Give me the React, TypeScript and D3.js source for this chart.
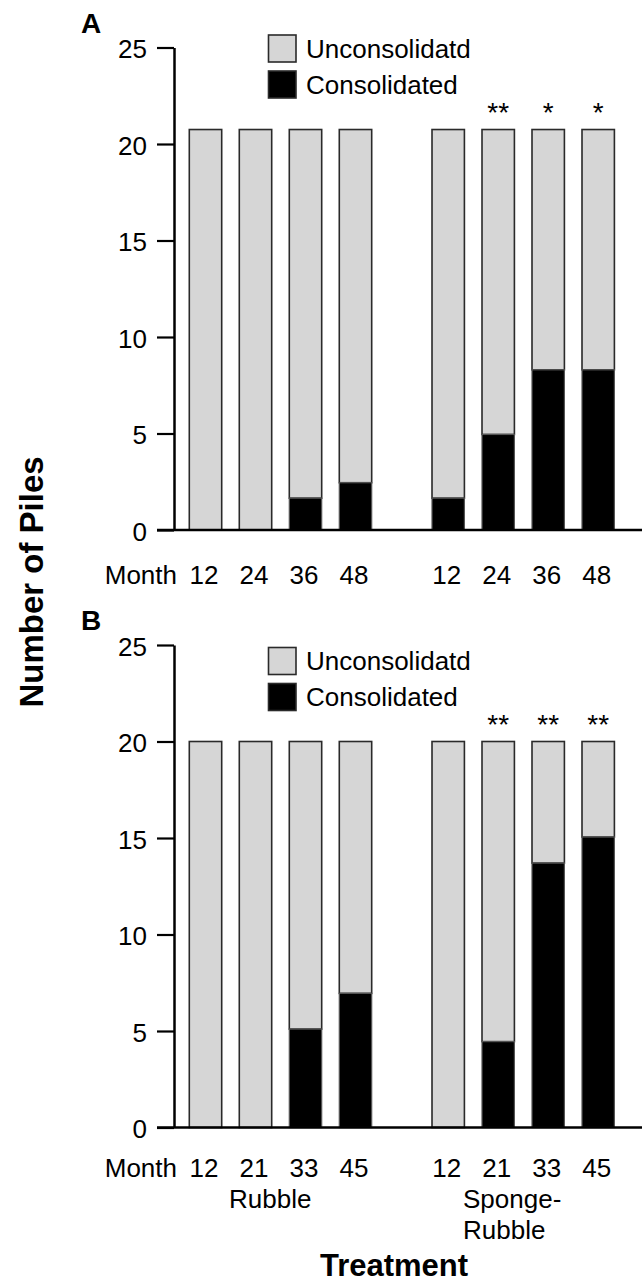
import { useEffect, useRef } from "react";
import * as d3 from "d3";

const groups = ["Rubble", "Sponge-Rubble"];
const monthsA = ["12", "24", "36", "48"];
const monthsB = ["12", "21", "33", "45"];

// panel A (order: Rubble 12..48, Sponge-Rubble 12..48)
const consolidatedA = [0, 0, 1.65, 2.45, 1.65, 4.95, 8.3, 8.3];
const unconsolidatedA = [20.75, 20.75, 19.1, 18.3, 19.1, 15.8, 12.45, 12.45];
const starsA = ["", "", "", "", "", "**", "*", "*"];

// panel B
const consolidatedB = [0, 0, 5.1, 6.95, 0, 4.45, 13.7, 15.05];
const unconsolidatedB = [20, 20, 14.9, 13.05, 20, 15.55, 6.3, 4.95];
const starsB = ["", "", "", "", "", "**", "**", "**"];

const yTicks = [0, 5, 10, 15, 20, 25];
const seriesNames = ["Unconsolidatd", "Consolidated"];

const FONT = "'Liberation Sans', Arial, Helvetica, sans-serif";
const GREY = "#d6d6d6";
const EDGE = "#2a2a2a";

const W = 644;
const H = 1282;
const axisX = 174;

const outer = d3.scaleBand<number>().domain([0, 1]).range([189.3, 614.4]).paddingInner(0.2485).paddingOuter(0);
const inner = d3.scaleBand<number>().domain([0, 1, 2, 3]).range([0, outer.bandwidth()]).paddingInner(0.352).paddingOuter(0);

function barX(i: number) {
  return (outer(Math.floor(i / 4)) ?? 0) + (inner(i % 4) ?? 0);
}

function Panel({ letter, top, months, cons, uncons, stars, labelGap, legendTop }) {
  const axisRef = useRef<SVGGElement>(null);
  const y = d3.scaleLinear().domain([0, 25]).range([top + 482.5, top]);

  useEffect(() => {
    const g = d3.select(axisRef.current);
    g.selectAll("*").remove();
    g.call(d3.axisLeft(y).tickValues(yTicks).tickSize(17).tickSizeOuter(0).tickPadding(10));
    g.select(".domain").attr("stroke", "#000").attr("stroke-width", 2.5);
    g.selectAll(".tick line").attr("stroke", "#000").attr("stroke-width", 2.2);
    g.selectAll(".tick text")
      .attr("font-family", FONT)
      .attr("font-size", 26)
      .attr("fill", "#000")
      .attr("dy", "0.4em");
  }, [top]);

  const bw = inner.bandwidth();
  const y0 = y(0);

  return (
    <g>
      <text x={81} y={top - 15} fontFamily={FONT} fontWeight="bold" fontSize={28}>{letter}</text>
      {cons.map((c, i) => {
        const u = uncons[i];
        const x = barX(i);
        return (
          <g key={i}>
            <rect x={x} y={y(c + u)} width={bw} height={y(c) - y(c + u)} fill={GREY} stroke={EDGE} strokeWidth={1.6} />
            {c > 0 && (
              <rect x={x} y={y(c)} width={bw} height={y0 - y(c)} fill="#000" stroke="#555" strokeWidth={1.2} />
            )}
            {stars[i] && (
              <text x={x + bw / 2} y={y(c + u) - 8} textAnchor="middle" fontFamily={FONT} fontSize={28}>{stars[i]}</text>
            )}
          </g>
        );
      })}
      <line x1={157} x2={642} y1={y0} y2={y0} stroke="#000" strokeWidth={2.5} />
      <g ref={axisRef} transform={`translate(${axisX},0)`} />
      <text x={177} y={y0 + labelGap} textAnchor="end" fontFamily={FONT} fontSize={26}>Month</text>
      {cons.map((_, i) => (
        <text key={i} x={barX(i) + bw / 2 - 1.5} y={y0 + labelGap} textAnchor="middle" fontFamily={FONT} fontSize={26}>
          {months[i % 4]}
        </text>
      ))}
      {seriesNames.map((s, k) => (
        <g key={s}>
          <rect x={268.5} y={legendTop + k * 36} width={27.5} height={27} fill={k === 0 ? GREY : "#000"} stroke={EDGE} strokeWidth={1.6} />
          <text x={306} y={legendTop + k * 36 + 22.5} fontFamily={FONT} fontSize={26}>{s}</text>
        </g>
      ))}
    </g>
  );
}

export default function App() {
  return (
    <svg width={W} height={H} style={{ position: "absolute", left: 0, top: 0, background: "#fff" }}>
      <Panel letter="A" top={47.5} months={monthsA} cons={consolidatedA} uncons={unconsolidatedA} stars={starsA} labelGap={53.5} legendTop={35} />
      <Panel letter="B" top={645} months={monthsB} cons={consolidatedB} uncons={unconsolidatedB} stars={starsB} labelGap={49} legendTop={647.5} />
      <text x={229} y={1208} fontFamily={FONT} fontSize={26}>{groups[0]}</text>
      <text x={463} y={1208} fontFamily={FONT} fontSize={26}>Sponge-</text>
      <text x={463} y={1238.5} fontFamily={FONT} fontSize={26}>Rubble</text>
      <text x={394} y={1276} textAnchor="middle" fontFamily={FONT} fontWeight="bold" fontSize={31}>Treatment</text>
      <text transform="translate(43,582) rotate(-90)" textAnchor="middle" fontFamily={FONT} fontWeight="bold" fontSize={33}>Number of Piles</text>
    </svg>
  );
}
